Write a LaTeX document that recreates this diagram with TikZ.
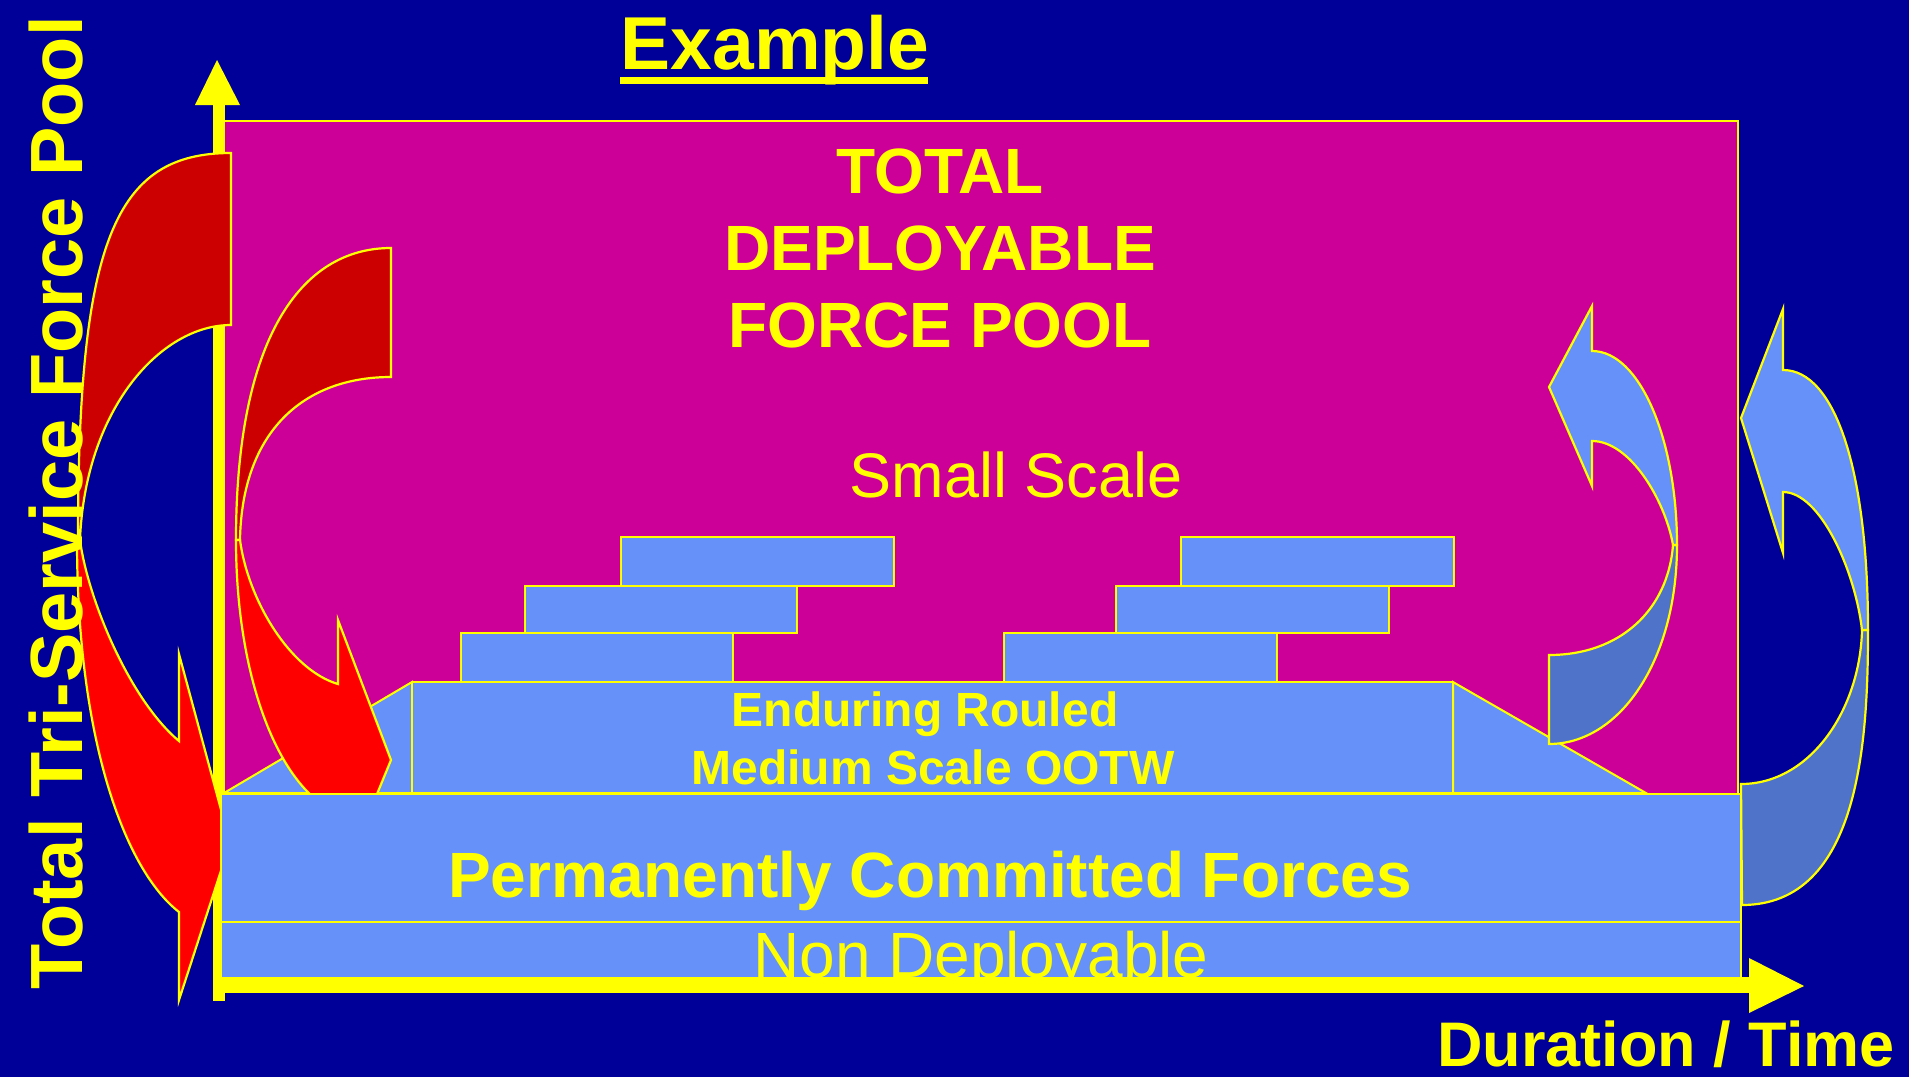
\documentclass[tikz,border=0pt]{standalone}
\usepackage{fontspec}
\setmainfont{Liberation Sans}
\definecolor{bg}{HTML}{000099}
\definecolor{mag}{HTML}{CC0099}
\definecolor{yel}{HTML}{FFFF00}
\definecolor{lblue}{HTML}{6591F9}
\definecolor{dblue}{HTML}{4F73C9}
\definecolor{dred}{HTML}{CC0000}
\definecolor{bred}{HTML}{FF0000}
\newcommand\myfs[1]{\fontsize{#1}{#1}\selectfont}
\begin{document}
\begin{tikzpicture}[x=1pt,y=-1pt,
  box/.style={fill=lblue,draw=yel,line width=2pt,line join=miter},
  back/.style={draw=yel,line width=2.2pt,line join=miter},
  txt/.style={text=yel,inner sep=0pt,anchor=base}]
\useasboundingbox (0,0) rectangle (1909,1077);
\fill[bg] (0,0) rectangle (1909,1077);
% magenta pool
\draw[fill=mag,draw=yel,line width=2pt] (224,121) rectangle (1738,794);
% y axis
\fill[yel] (213,1001) rectangle (225,104);
\fill[yel] (195,105) -- (240,105) -- (217,60) -- cycle;
% trapezoid
\draw[box] (224,793) -- (412,682) -- (412,793) -- cycle;
\draw[box] (1453,682) -- (1646,793) -- (1453,793) -- cycle;
\draw[box] (412,682) rectangle (1453,793);
% steps left
\draw[box] (461,633) rectangle (733,682);
\draw[box] (525,586) rectangle (797,633);
\draw[box] (621,537) rectangle (894,586);
% steps right
\draw[box] (1004,633) rectangle (1277,682);
\draw[box] (1116,586) rectangle (1389,633);
\draw[box] (1181,537) rectangle (1454,586);
% big red arrow
\draw[back,fill=dred] (231,153) .. controls (115,153) and (78,240) .. (78,540)
   -- (80,540) .. controls (85,410) and (160,325) .. (231,325) -- cycle;
\draw[back,fill=bred] (80,540) .. controls (88,600) and (130,700) .. (179,741)
   -- (179,654) -- (230,843) -- (179,1000) -- (179,912)
   .. controls (125,870) and (77,740) .. (77,540) -- cycle;
% small red arrow
\draw[back,fill=dred] (391,248) .. controls (300,248) and (236,340) .. (236,540)
   -- (240,540) .. controls (242,430) and (305,377) .. (391,377) -- cycle;
\draw[back,fill=bred] (240,540) .. controls (248,600) and (290,670) .. (338,684)
   -- (338,620) -- (391,760) -- (338,889) -- (338,813)
   .. controls (280,790) and (236,680) .. (236,540) -- cycle;
% bands
\draw[box] (221,794) rectangle (1741,922);
\draw[box] (221,922) rectangle (1741,978);
% band texts
\node[txt,font=\myfs{48}\bfseries] (endur) at (925,726) {Enduring Rouled};
\node[txt,font=\myfs{48}\bfseries] (medium) at (933,784) {Medium Scale OOTW};
\node[txt,font=\myfs{64}\bfseries] (perm) at (930,897) {Permanently Committed Forces};
\node[txt,font=\myfs{64}] (nondep) at (981,977) {Non Deployable};
% x axis
\fill[yel] (213,977) rectangle (1750,993);
\fill[yel] (1749,958) -- (1749,1013) -- (1804,986) -- cycle;
% inner blue arrow
\draw[back,fill=dblue] (1549,744) .. controls (1620,744) and (1677,660) .. (1677,545)
   -- (1673,545) .. controls (1668,610) and (1620,655) .. (1549,655) -- cycle;
\draw[back,fill=lblue] (1677,545) .. controls (1677,440) and (1640,351) .. (1592,351)
   -- (1592,306) -- (1549,387) -- (1592,486) -- (1592,441)
   .. controls (1630,441) and (1665,500) .. (1673,545) -- cycle;
% outer blue arrow
\draw[back,fill=dblue] (1742,905) .. controls (1860,905) and (1868,740) .. (1868,630)
   -- (1862,630) .. controls (1860,710) and (1810,784) .. (1741,784) -- cycle;
\draw[back,fill=lblue] (1868,630) .. controls (1868,470) and (1835,370) .. (1783,370)
   -- (1783,309) -- (1741,418) -- (1783,553) -- (1783,492)
   .. controls (1820,492) and (1855,570) .. (1862,630) -- cycle;
% texts
\node[txt,font=\myfs{75}\bfseries] (example) at (775,69) {Example};
\fill[yel] (620,77) rectangle (928,84);
\node[txt,font=\myfs{64}\bfseries] (total1) at (940,193) {TOTAL};
\node[txt,font=\myfs{64}\bfseries] (total2) at (940,270) {DEPLOYABLE};
\node[txt,font=\myfs{64}\bfseries] (total3) at (940,347) {FORCE POOL};
\node[txt,font=\myfs{63}] (small) at (1016,497) {Small Scale};
\node[txt,font=\myfs{63}\bfseries] (duration) at (1666,1066) {Duration / Time};
\node[txt,font=\myfs{74}\bfseries,rotate=90] (ylabel) at (82,503) {Total Tri-Service Force Pool};
\end{tikzpicture}
\end{document}
